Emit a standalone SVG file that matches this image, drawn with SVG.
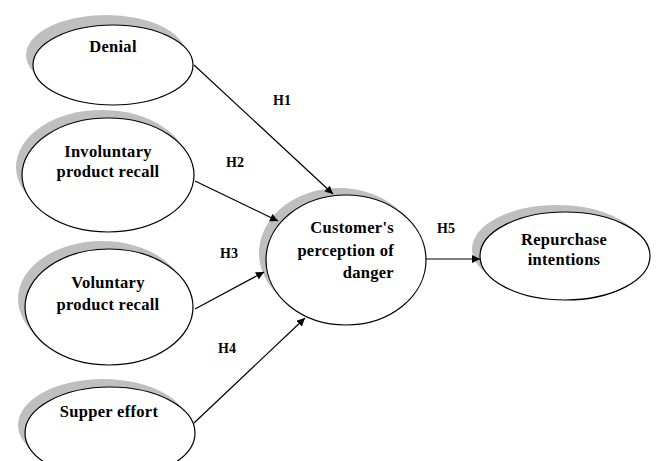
<svg xmlns="http://www.w3.org/2000/svg" width="656" height="461" viewBox="0 0 656 461">
<style>
.sh{fill:#bfbfbf;stroke:none}
.el{fill:#fff;stroke:#000;stroke-width:1.2}
.t{font-family:"Liberation Serif",serif;font-weight:bold;font-size:16.5px;letter-spacing:0.3px;fill:#000}
.h{font-family:"Liberation Serif",serif;font-weight:bold;font-size:14px;fill:#000}
.c line{stroke:#000;stroke-width:1.2;marker-end:url(#ah)}
</style>
<defs>
<marker id="ah" viewBox="0 0 10 10" refX="10" refY="5" markerWidth="9" markerHeight="8" markerUnits="userSpaceOnUse" orient="auto">
<path d="M0,0 L10,5 L0,10 z" fill="#000"/>
</marker>
</defs>
<rect width="656" height="461" fill="#fff"/>
<g id="denial">
<ellipse class="sh" cx="106" cy="55" rx="80" ry="40"/>
<ellipse class="el" cx="113" cy="65" rx="80" ry="40"/>
<text class="t" x="113" y="52" text-anchor="middle">Denial</text>
</g>
<g id="involuntary">
<ellipse class="sh" cx="102" cy="167" rx="86" ry="57"/>
<ellipse class="el" cx="108" cy="175" rx="86" ry="57"/>
<text class="t" x="108" y="157" text-anchor="middle">Involuntary</text>
<text class="t" x="108" y="177" text-anchor="middle">product recall</text>
</g>
<g id="voluntary">
<ellipse class="sh" cx="102" cy="299" rx="84" ry="58"/>
<ellipse class="el" cx="109" cy="307" rx="84" ry="58"/>
<text class="t" x="108" y="288" text-anchor="middle">Voluntary</text>
<text class="t" x="108" y="310" text-anchor="middle">product recall</text>
</g>
<g id="supper">
<ellipse class="sh" cx="103" cy="425" rx="85" ry="46"/>
<ellipse class="el" cx="110" cy="433" rx="85" ry="46"/>
<text class="t" x="109" y="417" text-anchor="middle">Supper effort</text>
</g>
<g id="customer">
<ellipse class="sh" cx="339" cy="253" rx="80" ry="65"/>
<ellipse class="el" cx="346" cy="260" rx="80" ry="65"/>
<text class="t" x="394" y="233" text-anchor="end">Customer's</text>
<text class="t" x="394" y="256" text-anchor="end">perception of</text>
<text class="t" x="394" y="278" text-anchor="end">danger</text>
</g>
<g id="repurchase">
<ellipse class="sh" cx="557" cy="249" rx="85" ry="44"/>
<ellipse class="el" cx="565" cy="256" rx="85" ry="44"/>
<text class="t" x="564" y="245" text-anchor="middle">Repurchase</text>
<text class="t" x="564" y="265" text-anchor="middle">intentions</text>
</g>
<g id="connectors" class="c">
<line x1="194" y1="65" x2="333" y2="194"/>
<line x1="195" y1="181" x2="278" y2="221"/>
<line x1="195" y1="309" x2="264" y2="272"/>
<line x1="194" y1="423" x2="305" y2="318"/>
<line x1="426" y1="259" x2="480" y2="259"/>
</g>
<g id="labels">
<text class="h" x="273" y="105">H1</text>
<text class="h" x="226" y="167">H2</text>
<text class="h" x="220" y="258">H3</text>
<text class="h" x="218" y="353">H4</text>
<text class="h" x="437" y="233">H5</text>
</g>
</svg>
